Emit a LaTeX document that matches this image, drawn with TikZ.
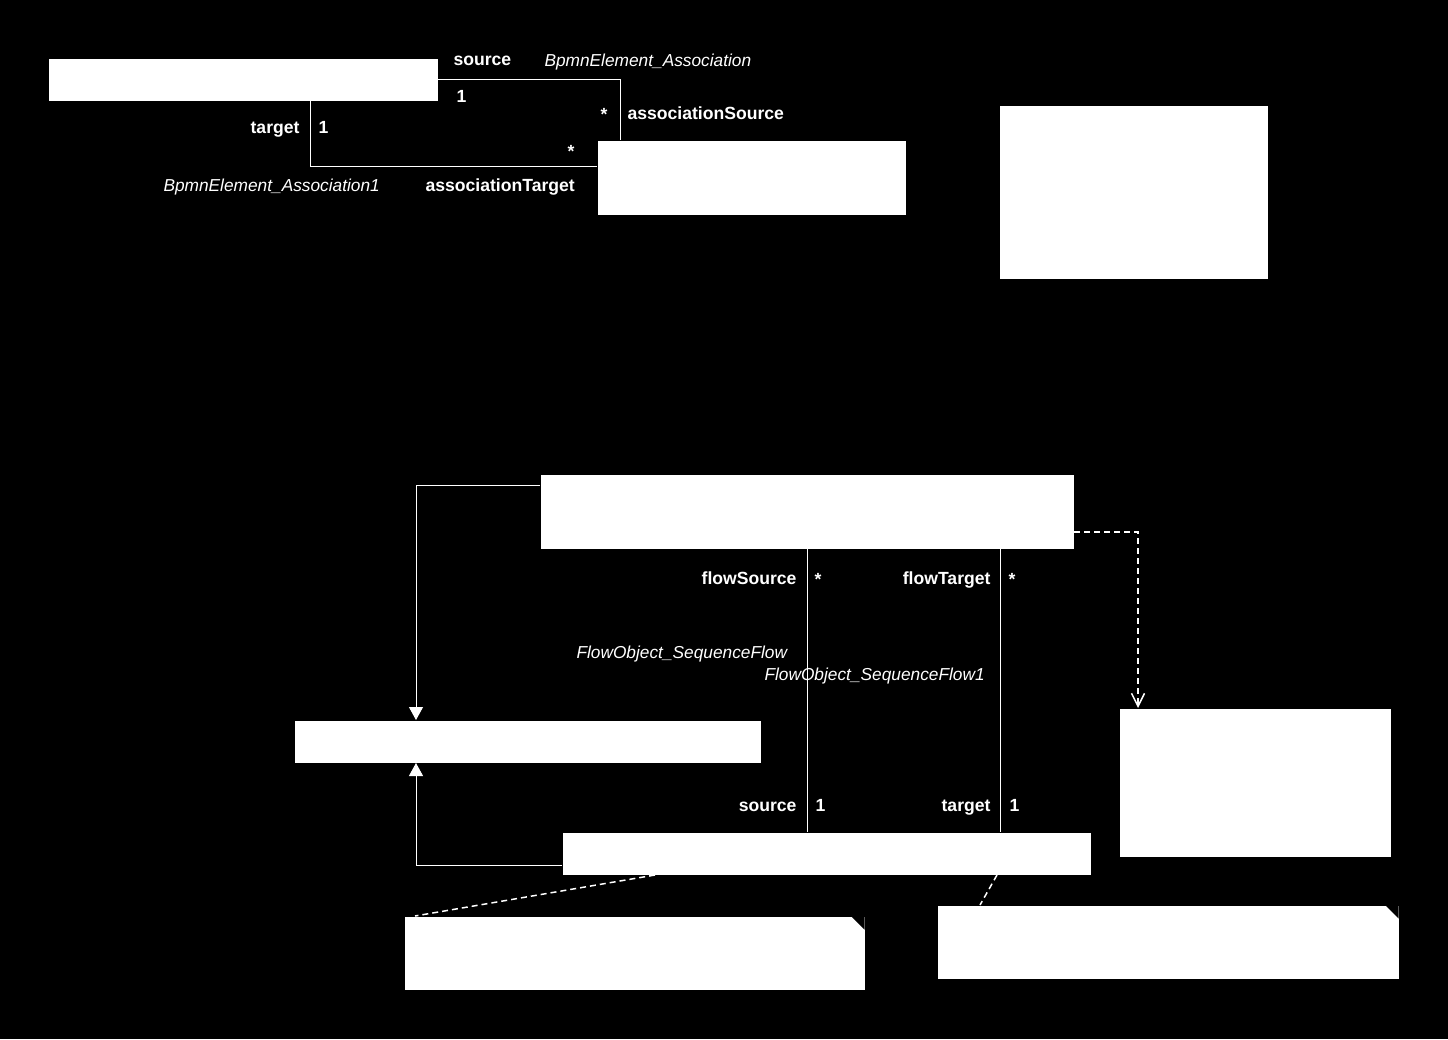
\documentclass[tikz,border=0pt]{standalone}
\usepackage{fontspec}
\setmainfont{Liberation Sans}
\usetikzlibrary{arrows.meta}

\tikzset{
	cls/.style={fill=white, draw=none, inner sep=0pt, anchor=north west},
	note/.style={cls, path picture={\fill[black] (path picture bounding box.north east) -- ++(-13pt,0pt) -- ++(13pt,-13pt) -- cycle;}},
	role/.style={text=white, inner sep=0pt, font=\bfseries\fontsize{17.6}{20}\selectfont},
	assocname/.style={text=white, inner sep=0pt, font=\itshape\fontsize{17.3}{20}\selectfont},
	gen/.style={-{Triangle[width=14pt,length=13pt]}},
	anchorline/.style={line width=1.5pt, dash pattern=on 6pt off 4pt}
}

\begin{document}
\begin{tikzpicture}[x=1pt,y=-1pt,line width=1pt,white]
	%\draw[gray,step=50] (0,0) grid (1448,1039);
	\fill[black] (0,0) rectangle (1448,1039);

	\node[cls, minimum width=389pt, minimum height=42pt] (elem) at (48,58) {};
	\node[cls, minimum width=308pt, minimum height=74pt] (assoc) at (597,140) {};
	\node[cls, minimum width=268pt, minimum height=173pt] (other) at (999,105) {};
	\node[cls, minimum width=533pt, minimum height=74pt] (seqflow) at (540,474) {};
	\node[cls, minimum width=466pt, minimum height=42pt] (base) at (294,720) {};
	\node[cls, minimum width=528pt, minimum height=42pt] (flowobj) at (562,832) {};
	\node[cls, minimum width=271pt, minimum height=148pt] (iface) at (1119,708) {};
	\node[note, minimum width=460pt, minimum height=73pt] (noteA) at (404,916) {};
	\node[note, minimum width=461pt, minimum height=73pt] (noteB) at (937,905) {};

	% BpmnElement -- Association
	\draw (elem.east) -| ([xshift=23pt]assoc.north west);
	\draw ([xshift=262pt]elem.south west) |- ([yshift=-26pt]assoc.north west);
	\node[role, anchor=base west] (srcrole) at (453,65) {source};
	\node[assocname, anchor=base west] (srcname) at (544,66) {BpmnElement\_Association};
	\node[role, anchor=base west] (srcmult) at (456,102) {1};
	\node[role, anchor=base west] (asrcmult) at (600,120) {*};
	\node[role, anchor=base west] (asrcrole) at (627,119) {associationSource};
	\node[role, anchor=base east] (tgtrole) at (300,133) {target};
	\node[role, anchor=base west] (tgtmult) at (318,133) {1};
	\node[role, anchor=base west] (atgtmult) at (567,157) {*};
	\node[assocname, anchor=base west] (tgtname) at (163,191) {BpmnElement\_Association1};
	\node[role, anchor=base west] (atgtrole) at (425,191) {associationTarget};

	% generalizations and dependency
	\draw[gen] ([yshift=-11pt]seqflow.north west) -| ([xshift=122pt]base.north west);
	\draw[gen] ([yshift=10pt]flowobj.south west) -| ([xshift=122pt]base.south west);
	\draw[anchorline, -{Straight Barb[width=13pt,length=13pt]}] ([yshift=17pt]seqflow.south east) -| ([xshift=19pt]iface.north west);

	% FlowObject -- SequenceFlow
	\draw ([xshift=267pt]seqflow.south west) -- ([xshift=245pt]flowobj.north west);
	\draw ([xshift=460pt]seqflow.south west) -- ([xshift=438pt]flowobj.north west);
	\node[role, anchor=base east] (fsrcrole) at (797,584) {flowSource};
	\node[role, anchor=base west] (fsrcmult) at (814,585) {*};
	\node[role, anchor=base east] (ftgtrole) at (991,584) {flowTarget};
	\node[role, anchor=base west] (ftgtmult) at (1008,585) {*};
	\node[assocname, anchor=base west] (fsrcname) at (576,658) {FlowObject\_SequenceFlow};
	\node[assocname, anchor=base west] (ftgtname) at (764,680) {FlowObject\_SequenceFlow1};
	\node[role, anchor=base east] (srcrole2) at (797,811) {source};
	\node[role, anchor=base west] (srcmult2) at (815,811) {1};
	\node[role, anchor=base east] (tgtrole2) at (991,811) {target};
	\node[role, anchor=base west] (tgtmult2) at (1009,811) {1};

	% notes
	\draw[anchorline] ([xshift=93pt]flowobj.south west) -- ([xshift=11pt]noteA.north west);
	\draw[anchorline] ([xshift=435pt]flowobj.south west) -- ([xshift=43pt]noteB.north west);

\end{tikzpicture}
\end{document}
